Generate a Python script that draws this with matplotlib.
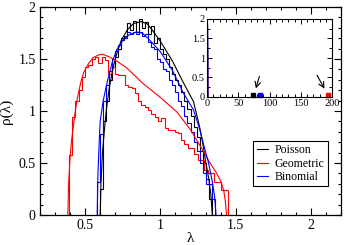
import numpy as np
import matplotlib
matplotlib.use("Agg")
import matplotlib.pyplot as plt
from matplotlib.ticker import MultipleLocator, FuncFormatter

plt.rcParams['font.family'] = ['Liberation Serif', 'DejaVu Serif']

# smooth (theoretical) densities
poisson_lam = [0.600, 0.605, 0.615, 0.63, 0.64, 0.66, 0.686, 0.71, 0.74, 0.78, 0.82, 0.87,
               0.91, 0.94, 1.00, 1.08, 1.15, 1.22, 1.26, 1.28, 1.30, 1.32, 1.335, 1.345]
poisson_rho = [0.0, 0.3, 0.6, 0.85, 1.0, 1.22, 1.42, 1.55, 1.68, 1.78, 1.84, 1.86,
               1.84, 1.79, 1.67, 1.48, 1.28, 1.09, 0.85, 0.70, 0.52, 0.36, 0.20, 0.0]

geom_lam = [0.385, 0.39, 0.40, 0.41, 0.43, 0.445, 0.47, 0.49, 0.52, 0.55, 0.59, 0.62, 0.66,
            0.70, 0.78, 0.88, 1.00, 1.11, 1.20, 1.27, 1.33, 1.37, 1.40, 1.42, 1.43, 1.44]
geom_rho = [0.0, 0.3, 0.55, 0.72, 0.95, 1.10, 1.27, 1.37, 1.45, 1.51, 1.54, 1.545, 1.52,
            1.49, 1.41, 1.27, 1.13, 0.99, 0.82, 0.65, 0.50, 0.41, 0.33, 0.24, 0.15, 0.0]

binom_lam = [0.58, 0.585, 0.595, 0.60, 0.62, 0.645, 0.68, 0.71, 0.75, 0.79, 0.84, 0.88,
             0.93, 1.00, 1.08, 1.15, 1.22, 1.26, 1.29, 1.32, 1.345, 1.36, 1.37]
binom_rho = [0.0, 0.4, 0.75, 0.9, 1.1, 1.27, 1.47, 1.59, 1.68, 1.73, 1.76, 1.75,
             1.68, 1.57, 1.39, 1.18, 1.01, 0.83, 0.66, 0.50, 0.32, 0.18, 0.0]

# histograms (numerical spectra)
poisson_hist_start, poisson_hist_width = 0.60, 0.02
poisson_hist = [0.25, 0.9, 1.1, 1.3, 1.42, 1.52, 1.6, 1.68, 1.72, 1.85, 1.78, 1.87, 1.76,
                1.88, 1.8, 1.86, 1.74, 1.82, 1.65, 1.7, 1.6, 1.55, 1.5, 1.42, 1.36, 1.3,
                1.25, 1.18, 1.1, 1.02, 0.95, 0.85, 0.75, 0.62, 0.5, 0.35, 0.15]

geom_hist_start, geom_hist_width = 0.39, 0.022
geom_hist = [0.58, 0.94, 1.1, 1.2, 1.33, 1.42, 1.44, 1.5, 1.52, 1.46, 1.52, 1.49, 1.36,
             1.42, 1.36, 1.35, 1.35, 1.25, 1.23, 1.22, 1.17, 1.1, 1.06, 1.04, 1.01, 0.97,
             0.94, 0.9, 0.93, 0.84, 0.82, 0.82, 0.8, 0.79, 0.72, 0.68, 0.64, 0.64, 0.59,
             0.53, 0.53, 0.43, 0.4, 0.4, 0.32, 0.32, 0.24, 0.24]

binom_hist_start, binom_hist_width = 0.58, 0.02
binom_hist = [0.32, 0.78, 1.1, 1.25, 1.38, 1.5, 1.58, 1.63, 1.7, 1.7, 1.76, 1.74, 1.76,
              1.74, 1.76, 1.72, 1.74, 1.66, 1.62, 1.6, 1.5, 1.47, 1.4, 1.38, 1.3, 1.25,
              1.18, 1.1, 1.05, 0.95, 0.88, 0.8, 0.7, 0.62, 0.5, 0.4, 0.3, 0.3, 0.15]

# largest eigenvalues (inset)
outlier_x = [74, 85, 193]
outlier_colors = ['black', 'blue', 'red']


def edges(start, width, vals):
    return start + width * np.arange(len(vals) + 1)


fmt = FuncFormatter(lambda v, p: f'{v:g}')

fig = plt.figure(figsize=(3.46, 2.45), dpi=100)
ax = fig.add_axes([40 / 346, 30 / 245, 301 / 346, 208 / 245])

lw = 0.8
ax.stairs(poisson_hist, edges(poisson_hist_start, poisson_hist_width, poisson_hist), color='black', lw=lw)
ax.stairs(geom_hist, edges(geom_hist_start, geom_hist_width, geom_hist), color='red', lw=lw)
ax.stairs(binom_hist, edges(binom_hist_start, binom_hist_width, binom_hist), color='blue', lw=lw)
ax.plot(poisson_lam, poisson_rho, color='black', lw=lw, label='Poisson')
ax.plot(geom_lam, geom_rho, color='red', lw=lw, label='Geometric')
ax.plot(binom_lam, binom_rho, color='blue', lw=lw, label='Binomial')

ax.set_xlim(0.2, 2.2)
ax.set_ylim(0, 2)
ax.xaxis.set_major_locator(MultipleLocator(0.5))
ax.xaxis.set_minor_locator(MultipleLocator(0.1))
ax.yaxis.set_major_locator(MultipleLocator(0.5))
ax.yaxis.set_minor_locator(MultipleLocator(0.1))
ax.xaxis.set_major_formatter(fmt)
ax.yaxis.set_major_formatter(fmt)
ax.tick_params(which='both', direction='in', top=True, right=True, labelsize=10, pad=3)
ax.tick_params(which='major', length=5, width=0.8)
ax.tick_params(which='minor', length=2.5, width=0.8)
for s in ax.spines.values():
    s.set_linewidth(0.9)
ax.set_xlabel('λ', fontsize=11, labelpad=0)
ax.set_ylabel('ρ(λ)', fontsize=11, labelpad=4)

leg = ax.legend(loc='upper left', bbox_to_anchor=(0.708, 0.356), borderaxespad=0,
                fontsize=8.5, fancybox=False, edgecolor='black', handlelength=1.0,
                handletextpad=0.5, labelspacing=0.1, borderpad=0.3, framealpha=1)
leg.get_frame().set_linewidth(0.8)

# inset
ins = fig.add_axes([207 / 346, 148 / 245, 125 / 346, 78 / 245])
ins.plot(geom_lam, geom_rho, color='red', lw=lw)
ins.plot(poisson_lam, poisson_rho, color='black', lw=lw)
ins.plot(binom_lam, binom_rho, color='blue', lw=lw)
for x, c in zip(outlier_x, outlier_colors):
    ins.plot([x], [0.04], marker='s', ms=3.0, color=c, clip_on=False)
ins.annotate('', xy=(77, 0.15), xytext=(85, 0.6),
             arrowprops=dict(arrowstyle='->', color='black', lw=0.8))
ins.annotate('', xy=(190, 0.15), xytext=(174, 0.62),
             arrowprops=dict(arrowstyle='->', color='black', lw=0.8))
ins.set_xlim(0, 200)
ins.set_ylim(0, 2)
ins.xaxis.set_major_locator(MultipleLocator(50))
ins.xaxis.set_minor_locator(MultipleLocator(10))
ins.yaxis.set_major_locator(MultipleLocator(0.5))
ins.yaxis.set_minor_locator(MultipleLocator(0.25))
ins.xaxis.set_major_formatter(fmt)
ins.yaxis.set_major_formatter(fmt)
ins.tick_params(which='both', direction='in', top=True, right=True, labelsize=7.5, pad=1.5)
ins.tick_params(which='major', length=3.5, width=0.7)
ins.tick_params(which='minor', length=2, width=0.7)
for s in ins.spines.values():
    s.set_linewidth(0.8)

fig.savefig('out.png', dpi=100)
